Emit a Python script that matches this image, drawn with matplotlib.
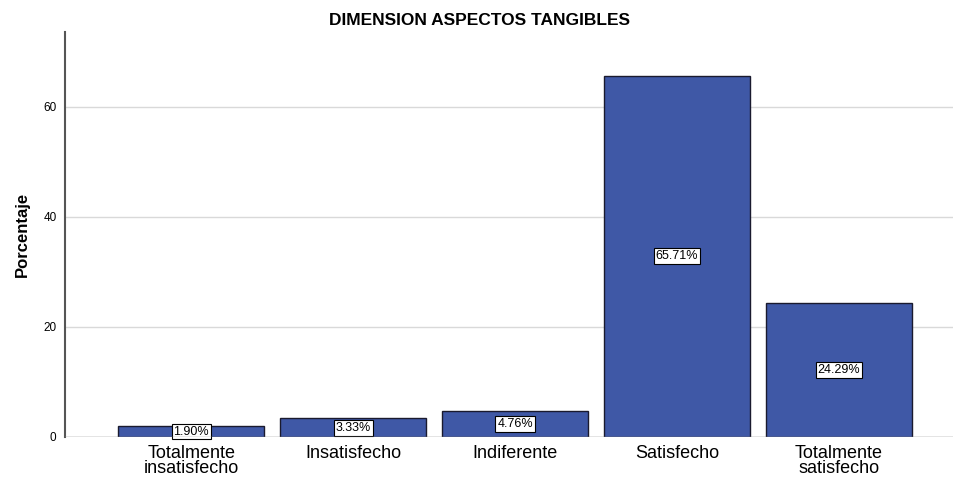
import matplotlib.pyplot as plt

categorias = ['Totalmente\ninsatisfecho', 'Insatisfecho', 'Indiferente', 'Satisfecho', 'Totalmente\nsatisfecho']
porcentajes = [1.90, 3.33, 4.76, 65.71, 24.29]
ticks_y = [0, 20, 40, 60]

plt.rcParams['font.family'] = ['Liberation Sans', 'DejaVu Sans']

fig = plt.figure(figsize=(9.54, 4.8), dpi=100)
ax = fig.add_axes([0.068, 0.09, 0.932, 0.843])

x = range(len(categorias))
ax.bar(x, porcentajes, width=0.9, color='#3f58a6', edgecolor='#1a1a2e', linewidth=1.0, zorder=3)

for i, v in enumerate(porcentajes):
    ax.text(i, v / 2, f'{v:.2f}%', ha='center', va='center', fontsize=9, zorder=4,
            bbox=dict(boxstyle='square,pad=0.15', facecolor='white', edgecolor='black', linewidth=0.8))

ax.set_xlim(-0.78, 4.71)
ax.set_ylim(0, 73.6)
ax.set_yticks(ticks_y)
ax.set_xticks(list(x))
ax.set_xticklabels(categorias, fontsize=13, linespacing=0.85)
ax.tick_params(axis='y', length=0, labelsize=8.5, pad=6)
ax.tick_params(axis='x', length=0, pad=6)
ax.yaxis.grid(True, color='#d9d9d9', linewidth=1.0, zorder=0)
ax.axhline(0, color='#999999', linewidth=1.0, zorder=5)

for lado in ['top', 'right', 'bottom']:
    ax.spines[lado].set_visible(False)
ax.spines['left'].set_color('#555555')
ax.spines['left'].set_linewidth(1.5)

ax.set_ylabel('Porcentaje', fontsize=12, fontweight='bold', labelpad=10)
fig.text(0.503, 0.958, 'DIMENSION ASPECTOS TANGIBLES', fontsize=12.5, fontweight='bold',
         ha='center', va='center')

fig.savefig('out.png', dpi=100)
